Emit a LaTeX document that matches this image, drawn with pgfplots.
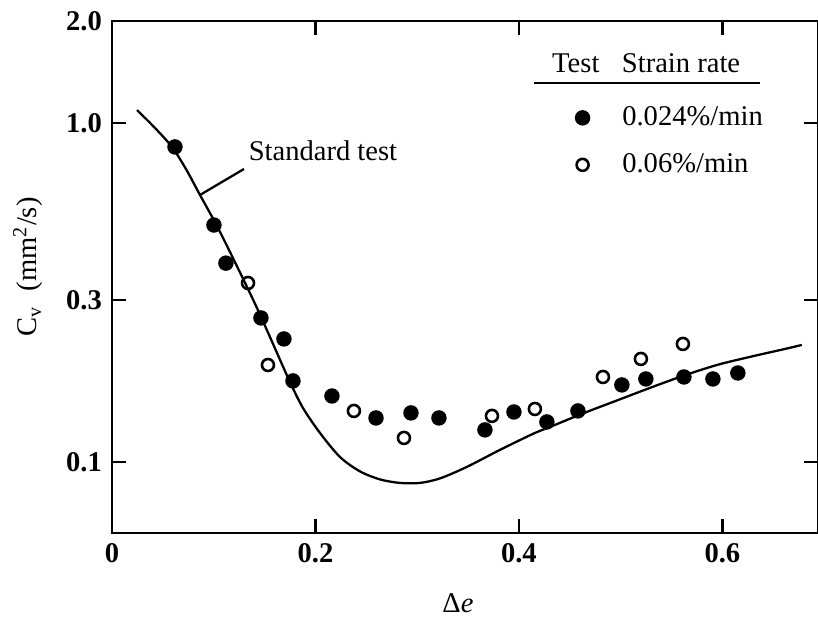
\documentclass[border=0pt]{standalone}
\usepackage{pgfplots}
\usepackage{pgfplotstable}
\pgfplotsset{compat=1.18}
\usepackage{fontspec}
\setmainfont{Liberation Serif}

\pgfplotstableread{
x y
0.0246 1.092
0.0423 0.9666
0.0590 0.8494
0.0727 0.7317
0.0865 0.6133
0.1032 0.4968
0.1189 0.3996
0.1356 0.3151
0.1474 0.2641
0.1622 0.2097
0.1749 0.1722
0.1877 0.1443
0.2044 0.1218
0.2241 0.1034
0.2437 0.0938
0.2634 0.0888
0.2830 0.0867
0.3027 0.0867
0.3224 0.0894
0.3489 0.0967
0.3813 0.1085
0.4138 0.1210
0.4305 0.1268
0.4629 0.1390
0.4963 0.1518
0.5287 0.1653
0.5612 0.1794
0.5946 0.1932
0.6270 0.2041
0.6614 0.2154
0.6781 0.2214
}\standard

\pgfplotstableread{
x y
0.0619 0.850
0.1002 0.500
0.1120 0.386
0.1464 0.266
0.1690 0.2306
0.1779 0.1734
0.2162 0.1565
0.2595 0.1348
0.2939 0.1395
0.3214 0.1348
0.3666 0.1243
0.3951 0.1404
0.4275 0.1312
0.4580 0.1414
0.5012 0.1687
0.5248 0.1757
0.5622 0.1781
0.5907 0.1757
0.6152 0.1830
}\slow

\pgfplotstableread{
x y
0.1337 0.3373
0.1533 0.1932
0.2378 0.1414
0.2870 0.1177
0.3735 0.1367
0.4157 0.1433
0.4826 0.1781
0.5199 0.2013
0.5612 0.2229
}\fast

\begin{document}
\begin{tikzpicture}
\begin{axis}[
  name=ax,
  scale only axis,
  width=247.1pt, height=179.2pt,
  xmin=0, xmax=0.694,
  ymode=log, ymin=0.0617, ymax=2.0,
  xtick={0,0.2,0.4,0.6},
  xticklabels={0,0.2,0.4,0.6},
  ytick={0.1,0.3,1,2},
  yticklabels={0.1,0.3,1.0,2.0},
  yminorticks=false, xminorticks=false,
  tick align=inside,
  major tick length=5pt,
  axis line style={line width=0.8pt},
  every tick/.style={line width=0.8pt, black},
  tick label style={font=\normalsize\bfseries},
  /pgf/number format/assume math mode=true,
  xlabel={Δ\textit{e}},
  ylabel={C\textsubscript{v}\ \ (mm\textsuperscript{2}/s)},
  xlabel style={at={(axis description cs:0.49,-0.137)}, anchor=center},
  ylabel style={at={(axis description cs:-0.119,0.52)}, anchor=center},
  legend style={draw=none, fill=none, at={(axis description cs:0.6435,0.857)},
    anchor=north west, row sep=4.3pt, font=\normalsize,
    /tikz/every odd column/.append style={column sep=9.4pt}},
  legend cell align=left,
  clip=false,
]
\addplot[black, line width=0.8pt, smooth, forget plot] table {\standard};
\addplot[only marks, mark=*, mark size=2.5pt, black] table {\slow};
\addlegendentry{0.024\%/min}
\addplot[only marks, mark=o, mark size=2.1pt, black, mark options={line width=0.9pt}] table {\fast};
\addlegendentry{0.06\%/min}
\draw[line width=0.8pt] (axis cs:0.0865,0.6133) -- (axis cs:0.1297,0.7317);
\node[anchor=center] at (axis cs:0.2074,0.827) {Standard test};
\node[anchor=center] at (axis description cs:0.657,0.918) {Test};
\node[anchor=center] at (axis description cs:0.806,0.918) {Strain rate};
\draw[line width=1pt] (axis description cs:0.598,0.879) -- (axis description cs:0.918,0.879);
\end{axis}
\pgfresetboundingbox
\path[use as bounding box] ([xshift=-39.2pt,yshift=-29.4pt]ax.south west) rectangle ([yshift=7.35pt]ax.north east);
\end{tikzpicture}
\end{document}
